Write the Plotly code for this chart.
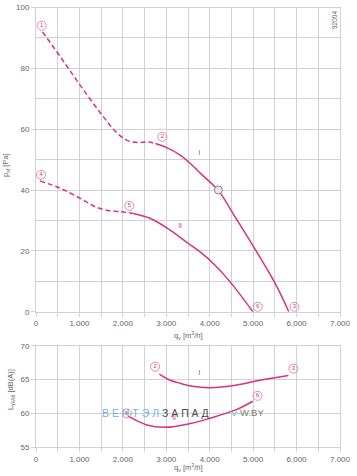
import plotly.graph_objects as go

# ---------------- data ----------------
x_ticks = [0, 1000, 2000, 3000, 4000, 5000, 6000, 7000]
x_ticktext = ["0", "1.000", "2.000", "3.000", "4.000", "5.000", "6.000", "7.000"]
p_ticks = [0, 20, 40, 60, 80, 100]
L_ticks = [55, 60, 65, 70]

# pressure curve I
I_dash_q = [150, 600, 1014, 1475, 1850, 2100, 2350, 2550, 2750]
I_dash_p = [92, 83, 74.5, 65.5, 59, 56.3, 55.6, 55.8, 55.3]
I_solid_q = [2750, 3000, 3318, 3548, 3800, 4200, 4600, 5008, 5507, 5820]
I_solid_p = [55.3, 54, 51.5, 48.8, 45.3, 39.8, 30.8, 21.4, 9.3, 0]

# pressure curve II
II_dash_q = [90, 553, 1014, 1350, 1650, 1935, 2240]
II_dash_p = [43, 40.6, 37.3, 34.6, 33.3, 32.9, 32.3]
II_solid_q = [2240, 2627, 3088, 3500, 3800, 4100, 4470, 4992]
II_solid_p = [32.3, 30.7, 26.8, 22.5, 19.4, 15.6, 9.8, 0]

# sound level curves
LI_q = [2841, 3088, 3318, 3600, 4009, 4624, 5161, 5813]
LI_L = [65.8, 64.9, 64.45, 64.0, 63.8, 64.2, 64.9, 65.6]
LII_q = [2127, 2550, 2972, 3548, 4009, 4624, 4992]
LII_L = [59.6, 58.3, 57.95, 58.5, 59.3, 60.6, 61.8]

# numbered points
top_pt_q = [130, 2910, 5952, 115, 2150, 5107]
top_pt_p = [94, 57.5, 1.6, 45, 34.8, 1.6]
top_pt_lbl = ["1", "2", "3", "4", "5", "6"]
op_q = [4200]
op_p = [40]
bot_pt_q = [2742, 5929, 2090, 5100]
bot_pt_L = [66.9, 66.6, 60, 62.6]
bot_pt_lbl = ["2", "3", "5", "6"]

# curve labels
top_lbl_q = [3763, 3318]
top_lbl_p = [52, 28]
bot_lbl_q = [3763, 3180]
bot_lbl_L = [65.9, 59.3]
curve_names = ["I", "II"]

# ---------------- style ----------------
PINK = "#d9327c"
GRID = "#d2d2d2"
TXT = "#666666"
FONT = "Liberation Sans, Arial, sans-serif"
W, H = 357, 476

fig = go.Figure()

def line(x, y, xa, ya, dash="solid"):
    fig.add_trace(go.Scatter(x=x, y=y, xaxis=xa, yaxis=ya, mode="lines",
                             line=dict(color=PINK, width=1.5, shape="spline",
                                       smoothing=1.0, dash=dash),
                             hoverinfo="skip", showlegend=False))

DASH = "5px,3px"
line(I_dash_q, I_dash_p, "x", "y", DASH)
line(I_solid_q, I_solid_p, "x", "y")
line(II_dash_q, II_dash_p, "x", "y", DASH)
line(II_solid_q, II_solid_p, "x", "y")
line(LI_q, LI_L, "x2", "y2")
line(LII_q, LII_L, "x2", "y2")

def points(x, y, lbl, xa, ya):
    fig.add_trace(go.Scatter(x=x, y=y, xaxis=xa, yaxis=ya, mode="markers+text",
                             text=lbl, textposition="middle center",
                             textfont=dict(size=6, color=PINK, family=FONT),
                             marker=dict(symbol="circle-open", size=9,
                                         line=dict(color="#e57aa8", width=0.9), color="#e57aa8"),
                             hoverinfo="skip", showlegend=False))

points(top_pt_q, top_pt_p, top_pt_lbl, "x", "y")
points(bot_pt_q, bot_pt_L, bot_pt_lbl, "x2", "y2")
fig.add_trace(go.Scatter(x=op_q, y=op_p, xaxis="x", yaxis="y", mode="markers",
                         marker=dict(symbol="circle", size=8, color="#e6e6e6",
                                     line=dict(color="#888888", width=1)),
                         hoverinfo="skip", showlegend=False))

# curve name labels
fig.add_trace(go.Scatter(x=top_lbl_q, y=top_lbl_p, xaxis="x", yaxis="y", mode="text",
                         text=curve_names, textfont=dict(size=7, color=PINK, family=FONT),
                         hoverinfo="skip", showlegend=False))
fig.add_trace(go.Scatter(x=bot_lbl_q, y=bot_lbl_L, xaxis="x2", yaxis="y2", mode="text",
                         text=curve_names, textfont=dict(size=7, color=PINK, family=FONT),
                         hoverinfo="skip", showlegend=False))

# ---------------- axes ----------------
X0, X1 = 36 / W, 340 / W
top_dom = [1 - 311.7 / H, 1 - 7.5 / H]
bot_dom = [1 - 447.3 / H, 1 - 345.7 / H]

axcommon = dict(showline=True, linecolor=GRID, linewidth=1, mirror=True,
                gridcolor=GRID, gridwidth=1, zeroline=False, automargin=False,
                ticks="outside", ticklen=4, tickcolor=GRID,
                tickfont=dict(size=8, color=TXT, family=FONT), fixedrange=True)

xminor = dict(tickmode="linear", tick0=0, dtick=500, showgrid=True, gridcolor=GRID,
              ticks="outside", ticklen=4, tickcolor=GRID)

fig.update_layout(
    width=W, height=H,
    margin=dict(l=0, r=0, t=0, b=0, pad=0),
    paper_bgcolor="white", plot_bgcolor="white",
    font=dict(family=FONT, size=8, color=TXT),
    xaxis=dict(domain=[X0, X1], range=[0, 7000], tickmode="array",
               tickvals=x_ticks, ticktext=x_ticktext, anchor="y",
               minor=xminor, **axcommon),
    yaxis=dict(domain=top_dom, range=[0, 100], tickmode="array", tickvals=p_ticks,
               anchor="x",
               minor=dict(tickmode="linear", tick0=0, dtick=10, showgrid=True,
                          gridcolor=GRID),
               **axcommon),
    xaxis2=dict(domain=[X0, X1], range=[0, 7000], tickmode="array",
                tickvals=x_ticks, ticktext=x_ticktext, anchor="y2",
                minor=xminor, **axcommon),
    yaxis2=dict(domain=bot_dom, range=[55, 70], tickmode="array", tickvals=L_ticks,
                anchor="x2", **axcommon),
)

def note(text, px, py, size=7.5, angle=0, xanchor="center", color=TXT):
    return dict(text=text, x=px / W, y=1 - py / H, xref="paper", yref="paper",
                xanchor=xanchor, yanchor="middle", textangle=angle, showarrow=False,
                borderpad=0, font=dict(size=size, color=color, family=FONT))

ann = [
    note("q<sub>v</sub> [m<sup>3</sup>/h]", 188, 335),
    note("q<sub>v</sub> [m<sup>3</sup>/h]", 188, 467),
    note("p<sub>sf</sub> [Pa]", 6, 165, angle=-90),
    note("L<sub>WA6</sub> [dB(A)]", 11, 390, angle=-90),
    note("92004", 335, 20, size=6.5, angle=-90),
    note("<span style='color:#6db3ea'>В Е Н Т Э Л </span>"
         "<span style='color:#4a4a4a'>З А П А Д</span>", 101, 412.7, size=10.5,
         xanchor="left"),
    note("<span style='color:#6db3ea'>V-</span>"
         "<span style='color:#7a7a7a'>W.BY</span>", 230, 412.7, size=9.5,
         xanchor="left"),
]
fig.update_layout(annotations=ann)

fig.write_html("out.html", config={"displayModeBar": False},
               post_script="document.body.style.margin='0';document.body.style.overflow='hidden';")
